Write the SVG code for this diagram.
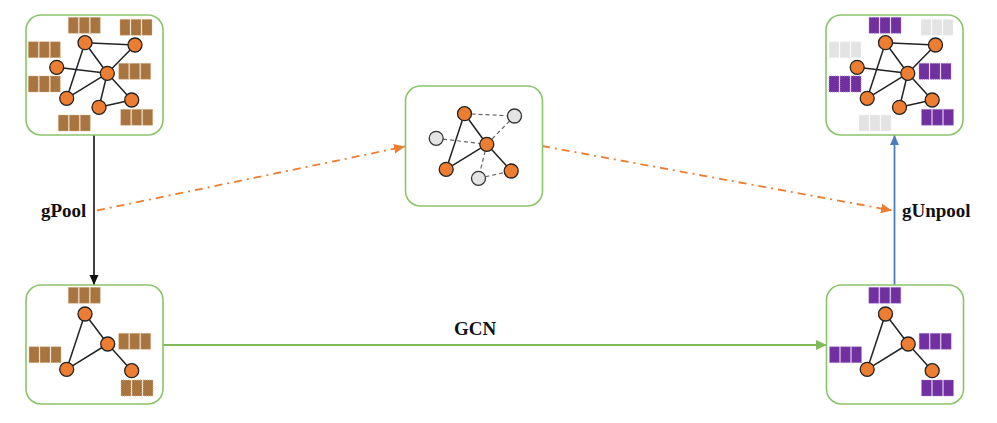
<svg xmlns="http://www.w3.org/2000/svg" xmlns:xlink="http://www.w3.org/1999/xlink" width="997" height="423" viewBox="0 0 997 423">
<style>
.box{fill:#fff;stroke:#8cc46b;stroke-width:1.6}
.e{stroke:#222;stroke-width:1.5}
.ed{stroke:#666;stroke-width:1.2;stroke-dasharray:4 3}
.n{fill:#ed7d31;stroke:#222;stroke-width:1.3}
.ng{fill:#e4e4e4;stroke:#333;stroke-width:1.3}
.br{fill:#a8743f;stroke:#d9bc94;stroke-width:0.8;stroke-dasharray:1 1}
.pu{fill:#7030a0;stroke:#b48ad0;stroke-width:0.8;stroke-dasharray:1 1}
.gr{fill:#e3e3e3;stroke:#f4f4f4;stroke-width:0.8;stroke-dasharray:1 1}
.lbl{font-family:"Liberation Serif","Times New Roman",serif;font-weight:bold;font-size:19px;fill:#111}
</style>
<defs>
<g id="blk"><rect x="0" y="0" width="10" height="16"/><rect x="11" y="0" width="10" height="16"/><rect x="22" y="0" width="10" height="16"/></g>
<marker id="aK" markerUnits="userSpaceOnUse" markerWidth="10" markerHeight="10" viewBox="0 0 10 10" refX="10" refY="5" orient="auto"><path d="M0,0.5 L10,5 L0,9.5 z" fill="#111"/></marker>
<marker id="aB" markerUnits="userSpaceOnUse" markerWidth="10" markerHeight="10" viewBox="0 0 10 10" refX="10" refY="5" orient="auto"><path d="M0,0.5 L10,5 L0,9.5 z" fill="#4a7ebb"/></marker>
<marker id="aO" markerUnits="userSpaceOnUse" markerWidth="11" markerHeight="11" viewBox="0 0 10 10" refX="10" refY="5" orient="auto"><path d="M0,0.5 L10,5 L0,9.5 z" fill="#ed7d31"/></marker>
<marker id="aG" markerUnits="userSpaceOnUse" markerWidth="11" markerHeight="11" viewBox="0 0 10 10" refX="10" refY="5" orient="auto"><path d="M0,0.5 L10,5 L0,9.5 z" fill="#7fbb5a"/></marker>
</defs>

<g id="connectors">
<line x1="94" y1="135" x2="94" y2="285" stroke="#111" stroke-width="1.6" marker-end="url(#aK)"/>
<line x1="894.5" y1="285" x2="894.5" y2="135" stroke="#4a7ebb" stroke-width="1.8" marker-end="url(#aB)"/>
<line x1="97" y1="210.5" x2="405" y2="146.5" stroke="#ed7d31" stroke-width="1.8" stroke-dasharray="8 5 2 5" marker-end="url(#aO)"/>
<line x1="542" y1="146" x2="892" y2="210.5" stroke="#ed7d31" stroke-width="1.8" stroke-dasharray="8 5 2 5" marker-end="url(#aO)"/>
<line x1="163" y1="345" x2="827" y2="345" stroke="#7fbb5a" stroke-width="1.8" marker-end="url(#aG)"/>
<text class="lbl" x="41" y="216.5">gPool</text>
<text class="lbl" x="902" y="216.5">gUnpool</text>
<text class="lbl" x="475" y="335" text-anchor="middle">GCN</text>
</g>

<g id="graph-input" transform="translate(26,15)">
<rect class="box" x="0" y="0" width="137" height="120" rx="15"/>
<g class="br">
<use xlink:href="#blk" x="42.3" y="2.3"/>
<use xlink:href="#blk" x="94" y="4.3"/>
<use xlink:href="#blk" x="2.3" y="26.7"/>
<use xlink:href="#blk" x="92.7" y="48.3"/>
<use xlink:href="#blk" x="2.3" y="61"/>
<use xlink:href="#blk" x="32.3" y="100"/>
<use xlink:href="#blk" x="94.7" y="94.3"/>
</g>
<g class="e">
<line x1="59" y1="27.7" x2="109" y2="30"/>
<line x1="59" y1="27.7" x2="81.3" y2="58.3"/>
<line x1="109" y1="30" x2="81.3" y2="58.3"/>
<line x1="30.7" y1="52.3" x2="81.3" y2="58.3"/>
<line x1="59" y1="27.7" x2="40.7" y2="83.3"/>
<line x1="81.3" y1="58.3" x2="40.7" y2="83.3"/>
<line x1="81.3" y1="58.3" x2="73" y2="92.3"/>
<line x1="81.3" y1="58.3" x2="105.7" y2="85"/>
<line x1="73" y1="92.3" x2="105.7" y2="85"/>
</g>
<circle class="n" cx="59" cy="27.7" r="7"/>
<circle class="n" cx="109" cy="30" r="7"/>
<circle class="n" cx="30.7" cy="52.3" r="7"/>
<circle class="n" cx="81.3" cy="58.3" r="7"/>
<circle class="n" cx="40.7" cy="83.3" r="7"/>
<circle class="n" cx="73" cy="92.3" r="7"/>
<circle class="n" cx="105.7" cy="85" r="7"/>
</g>

<g id="graph-output" transform="translate(826,15)">
<rect class="box" x="0" y="0" width="137" height="120" rx="15"/>
<use class="pu" xlink:href="#blk" x="43" y="2.3"/>
<use class="gr" xlink:href="#blk" x="95" y="4.3"/>
<use class="gr" xlink:href="#blk" x="3" y="26.7"/>
<use class="pu" xlink:href="#blk" x="93" y="48.3"/>
<use class="pu" xlink:href="#blk" x="3" y="61"/>
<use class="gr" xlink:href="#blk" x="33" y="100"/>
<use class="pu" xlink:href="#blk" x="95.5" y="94.3"/>
<g class="e">
<line x1="59.5" y1="27.7" x2="109.5" y2="30"/>
<line x1="59.5" y1="27.7" x2="81.8" y2="58.3"/>
<line x1="109.5" y1="30" x2="81.8" y2="58.3"/>
<line x1="31.2" y1="52.3" x2="81.8" y2="58.3"/>
<line x1="59.5" y1="27.7" x2="41.2" y2="83.3"/>
<line x1="81.8" y1="58.3" x2="41.2" y2="83.3"/>
<line x1="81.8" y1="58.3" x2="73.5" y2="92.3"/>
<line x1="81.8" y1="58.3" x2="106.2" y2="85"/>
<line x1="73.5" y1="92.3" x2="106.2" y2="85"/>
</g>
<circle class="n" cx="59.5" cy="27.7" r="7"/>
<circle class="n" cx="109.5" cy="30" r="7"/>
<circle class="n" cx="31.2" cy="52.3" r="7"/>
<circle class="n" cx="81.8" cy="58.3" r="7"/>
<circle class="n" cx="41.2" cy="83.3" r="7"/>
<circle class="n" cx="73.5" cy="92.3" r="7"/>
<circle class="n" cx="106.2" cy="85" r="7"/>
</g>

<g id="graph-pooled-view" transform="translate(405.5,86)">
<rect class="box" x="0" y="0" width="137" height="120" rx="15"/>
<g class="ed">
<line x1="59" y1="27.7" x2="109" y2="30"/>
<line x1="109" y1="30" x2="81.3" y2="58.3"/>
<line x1="30.7" y1="52.3" x2="81.3" y2="58.3"/>
<line x1="81.3" y1="58.3" x2="73" y2="92.3"/>
<line x1="73" y1="92.3" x2="105.7" y2="85"/>
</g>
<g class="e">
<line x1="59" y1="27.7" x2="81.3" y2="58.3"/>
<line x1="59" y1="27.7" x2="40.7" y2="83.3"/>
<line x1="81.3" y1="58.3" x2="40.7" y2="83.3"/>
<line x1="81.3" y1="58.3" x2="105.7" y2="85"/>
</g>
<circle class="n" cx="59" cy="27.7" r="7"/>
<circle class="ng" cx="109" cy="30" r="7"/>
<circle class="ng" cx="30.7" cy="52.3" r="7"/>
<circle class="n" cx="81.3" cy="58.3" r="7"/>
<circle class="n" cx="40.7" cy="83.3" r="7"/>
<circle class="ng" cx="73" cy="92.3" r="7"/>
<circle class="n" cx="105.7" cy="85" r="7"/>
</g>

<g id="graph-pooled" transform="translate(26,285)">
<rect class="box" x="0" y="0" width="137" height="119" rx="15"/>
<g class="br">
<use xlink:href="#blk" x="42.3" y="2.3"/>
<use xlink:href="#blk" x="92.7" y="48.3"/>
<use xlink:href="#blk" x="3" y="61.7"/>
<use xlink:href="#blk" x="95" y="95"/>
</g>
<g class="e">
<line x1="59" y1="29" x2="81.7" y2="59"/>
<line x1="59" y1="29" x2="40.7" y2="84.3"/>
<line x1="81.7" y1="59" x2="40.7" y2="84.3"/>
<line x1="81.7" y1="59" x2="105.7" y2="85.7"/>
</g>
<circle class="n" cx="59" cy="29" r="7"/>
<circle class="n" cx="81.7" cy="59" r="7"/>
<circle class="n" cx="40.7" cy="84.3" r="7"/>
<circle class="n" cx="105.7" cy="85.7" r="7"/>
</g>

<g id="graph-pooled-gcn" transform="translate(826.5,285)">
<rect class="box" x="0" y="0" width="137" height="119" rx="15"/>
<g class="pu">
<use xlink:href="#blk" x="42.3" y="2.3"/>
<use xlink:href="#blk" x="92.7" y="48.3"/>
<use xlink:href="#blk" x="3" y="61.7"/>
<use xlink:href="#blk" x="95" y="95"/>
</g>
<g class="e">
<line x1="59" y1="29" x2="81.7" y2="59"/>
<line x1="59" y1="29" x2="40.7" y2="84.3"/>
<line x1="81.7" y1="59" x2="40.7" y2="84.3"/>
<line x1="81.7" y1="59" x2="105.7" y2="85.7"/>
</g>
<circle class="n" cx="59" cy="29" r="7"/>
<circle class="n" cx="81.7" cy="59" r="7"/>
<circle class="n" cx="40.7" cy="84.3" r="7"/>
<circle class="n" cx="105.7" cy="85.7" r="7"/>
</g>
</svg>
